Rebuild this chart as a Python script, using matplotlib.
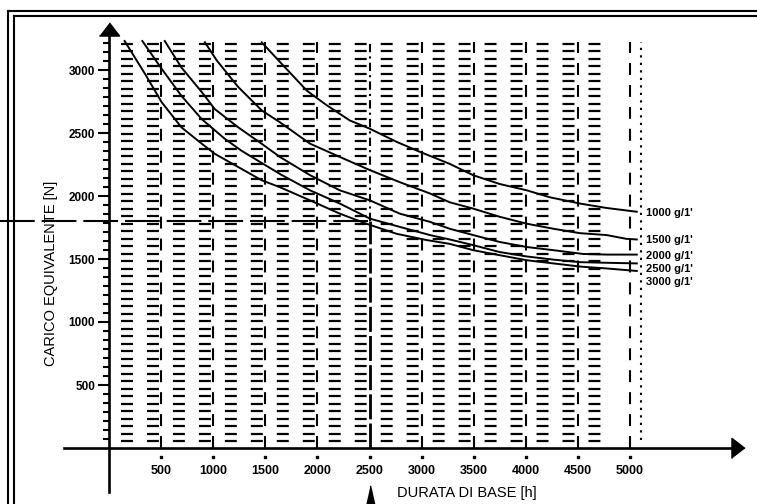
import matplotlib
matplotlib.use("Agg")
import matplotlib.pyplot as plt
import numpy as np
from matplotlib.lines import Line2D

plt.rcParams["font.family"] = ["Liberation Sans", "DejaVu Sans"]
plt.rcParams["lines.scale_dashes"] = False

# --- data --------------------------------------------------------------------
SPEED_LABELS = ["1000 g/1'", "1500 g/1'", "2000 g/1'", "2500 g/1'", "3000 g/1'"]

life_1000 = [1465, 1690, 1900, 2090, 2310, 2500, 2760, 2985, 3270, 3495, 3750,
             4010, 4230, 4520, 4775, 5065]
load_1000 = [3220, 3020, 2835, 2720, 2600, 2535, 2430, 2350, 2255, 2165, 2095,
             2045, 1990, 1940, 1905, 1875]

life_1500 = [920, 1035, 1240, 1465, 1640, 1930, 2215, 2505, 2790, 3080, 3270,
             3495, 3750, 4010, 4265, 4520, 4775, 4965, 5065]
load_1500 = [3220, 3075, 2865, 2680, 2585, 2415, 2310, 2205, 2110, 2020, 1950,
             1900, 1835, 1780, 1740, 1705, 1690, 1660, 1655]

life_2000 = [535, 695, 890, 1015, 1240, 1465, 1640, 1930, 2215, 2505, 2790,
             3080, 3270, 3495, 3750, 4010, 4265, 4550, 4775, 5065]
load_2000 = [3230, 3020, 2825, 2690, 2545, 2415, 2310, 2165, 2045, 1965, 1860,
             1795, 1740, 1690, 1635, 1595, 1570, 1540, 1535, 1535]

life_2500 = [320, 505, 695, 890, 1110, 1270, 1650, 1930, 2215, 2505, 2790,
             3080, 3270, 3495, 3750, 4010, 4265, 4520, 4775, 5065]
load_2500 = [3230, 3010, 2795, 2610, 2455, 2360, 2170, 2045, 1940, 1820, 1755,
             1690, 1655, 1610, 1555, 1520, 1495, 1475, 1470, 1465]

life_3000 = [150, 345, 505, 695, 890, 1015, 1465, 1640, 1930, 2215, 2470, 2760,
             3050, 3270, 3495, 3750, 4010, 4265, 4520, 4775, 5065]
load_3000 = [3230, 2970, 2745, 2545, 2415, 2335, 2125, 2070, 1965, 1860, 1780,
             1700, 1650, 1620, 1570, 1530, 1490, 1465, 1440, 1425, 1405]

X_TICKS = [500, 1000, 1500, 2000, 2500, 3000, 3500, 4000, 4500, 5000]
Y_TICKS = [500, 1000, 1500, 2000, 2500, 3000]

READ_LIFE = 2500   # worked example drawn on the chart
READ_LOAD = 1800
LIMIT_LIFE = 5110  # dotted limit line

# --- layout (pixels of the 757x504 picture) -----------------------------------
W, H = 757, 504
ORIGIN_X, ORIGIN_Y = 109, 448
PX_PER_H = 521 / 5000
PX_PER_N = 378 / 3000


def px_to_h(px):
    return (px - ORIGIN_X) / PX_PER_H


def py_to_n(py):
    return (ORIGIN_Y - py) / PX_PER_N


fig = plt.figure(figsize=(W / 100, H / 100), dpi=100)
left, right, top, bottom = 64, 738, 29, 492
ax = fig.add_axes([left / W, 1 - bottom / H, (right - left) / W, (bottom - top) / H])
ax.set_xlim(px_to_h(left), px_to_h(right))
ax.set_ylim(py_to_n(bottom), py_to_n(top))
ax.patch.set_alpha(0)

for side in ["top", "right"]:
    ax.spines[side].set_visible(False)
ax.spines["left"].set_position(("data", 0))
ax.spines["bottom"].set_position(("data", 0))
for side in ["left", "bottom"]:
    ax.spines[side].set_linewidth(1.9)

# arrow heads on the axes
ax.plot(1, 0, color="k", marker=[(-0.65, -1), (-0.65, 1), (0.65, 0)], ms=14.5,
        transform=ax.get_yaxis_transform(), clip_on=False)
ax.plot(0, 1, color="k", marker=[(-1, -0.65), (1, -0.65), (0, 0.65)], ms=14.5,
        transform=ax.get_xaxis_transform(), clip_on=False)

# dashed grid rows and columns
grid_top = py_to_n(42)
rows = np.linspace(py_to_n(441), py_to_n(44), 54)
ax.hlines(rows, px_to_h(121), px_to_h(614), colors="k", linewidth=1.6,
          linestyles=[(0, (8.6, 10.1))])
for x in X_TICKS:
    if x == READ_LIFE:
        continue
    ax.vlines(x, 0, grid_top, colors="k", linewidth=1.5,
              linestyles=[(0, (8.6, 7.2))])
ax.vlines(READ_LIFE, READ_LOAD, grid_top, colors="k", linewidth=1.5,
          linestyles=[(0, (6, 3, 1.5, 3))])
ax.vlines(LIMIT_LIFE, py_to_n(440), grid_top, colors="k", linewidth=1.5,
          linestyles=[(0, (1.6, 3.8))])

# worked example
ax.vlines(READ_LIFE, 0, READ_LOAD, colors="k", linewidth=2.0,
          linestyles=[(0, (18, 3))])
ax.hlines(READ_LOAD, px_to_h(0), READ_LIFE, colors="k", linewidth=1.5,
          linestyles=[(0, (25, 5))], clip_on=False)
ax.plot(READ_LIFE, py_to_n(495), color="k",
        marker=[(-0.45, -1), (0.45, -1), (0, 1)], ms=14, clip_on=False)

# curves
curves = [(life_1000, load_1000), (life_1500, load_1500), (life_2000, load_2000),
          (life_2500, load_2500), (life_3000, load_3000)]
label_dy = [-0.7, -0.7, -0.7, -4.3, -7.9]
for (life, load), name, dy in zip(curves, SPEED_LABELS, label_dy):
    ax.plot(life, load, color="k", linewidth=1.4)
    ax.annotate(name, xy=(life[-1], load[-1]), xytext=(6.5, dy),
                textcoords="offset points", ha="left", va="center",
                fontsize=8, fontweight="bold", annotation_clip=False)

# ticks
minor = [v for v in np.arange(0, 3300, 500 / 7)
         if min(abs(v - t) for t in [0] + Y_TICKS) > 1]
ax.set_yticks(Y_TICKS, labels=[str(v) for v in Y_TICKS], fontsize=8.5,
              fontweight="bold")
ax.set_yticks(minor, minor=True)
ax.tick_params(axis="y", which="major", direction="out", length=8, width=1.5, pad=2)
ax.tick_params(axis="y", which="minor", direction="out", length=4, width=1.5)
ax.set_xticks(X_TICKS, labels=[str(v) for v in X_TICKS], fontsize=9,
              fontweight="bold")
ax.tick_params(axis="x", length=0, pad=12)
ax.plot(X_TICKS, [py_to_n(457)] * len(X_TICKS), "s", color="k", ms=1.8)

fig.text(51 / W, 1 - 273 / H, "CARICO EQUIVALENTE [N]", rotation=90,
         ha="center", va="center", fontsize=10.5)
fig.text(467 / W, 1 - 493 / H, "DURATA DI BASE [h]", ha="center", va="center",
         fontsize=10.5)

# double frame, cut by the picture edge on the right and bottom
for fx, fy in [(8.3, 11.2), (13.7, 16.3)]:
    fig.add_artist(Line2D([fx / W, fx / W], [1 - fy / H, 0], color="k", lw=1.5))
    fig.add_artist(Line2D([fx / W, 1], [1 - fy / H, 1 - fy / H], color="k", lw=1.5))

fig.savefig("out.png", dpi=100)
